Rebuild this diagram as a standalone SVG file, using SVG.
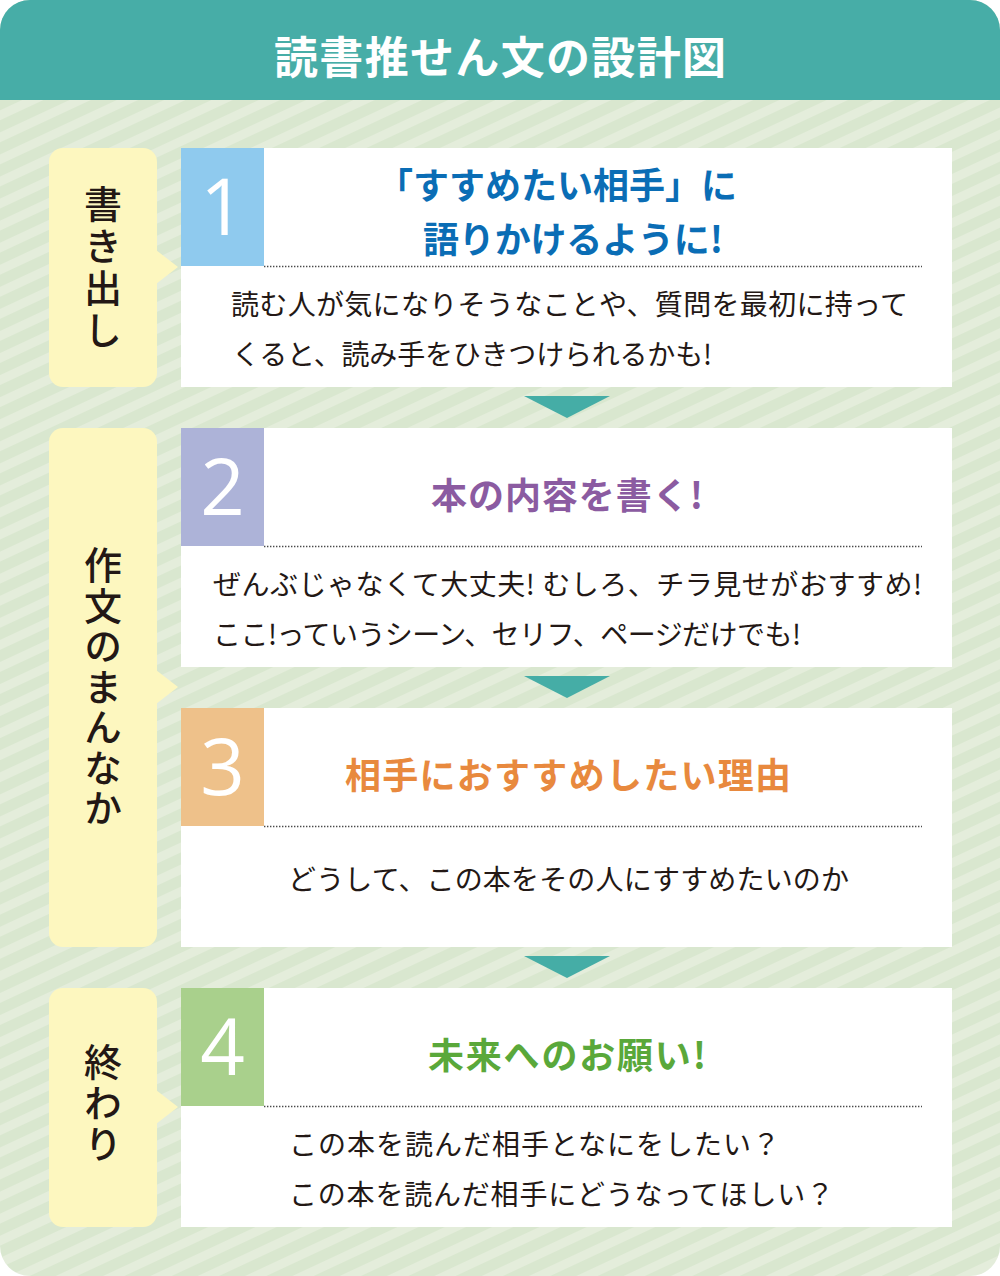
<svg xmlns="http://www.w3.org/2000/svg" width="1000" height="1276" viewBox="0 0 1000 1276">
  <style>
    .jp { font-family: "Noto Sans CJK JP", "Noto Sans", sans-serif; }
    .head { font-weight: 700; font-size: 44px; fill: #ffffff; }
    .side { fill: #fdf7bf; }
    .sidetxt { font-size: 38px; fill: #231815; font-weight: 500; writing-mode: vertical-rl; }
    .card { fill: #ffffff; }
    .num { font-family: "Open Sans", "Noto Sans", sans-serif; font-weight: 400; font-size: 78px; fill: #ffffff; }
    .ttl { font-weight: 700; font-size: 36px; }
    .body { font-size: 28px; fill: #231815; font-weight: 400; }
    .dot { stroke: #4a4a4a; stroke-width: 1.4; stroke-dasharray: 1.4 1.6; fill: none; }
    .arrow { fill: #45ada6; }
  </style>
  <defs>
    <clipPath id="frame">
      <rect x="0" y="0" width="1000" height="1276" rx="30" ry="30"/>
    </clipPath>
    <pattern id="stripes" patternUnits="userSpaceOnUse" width="40" height="20" patternTransform="rotate(-25)">
      <rect x="0" y="0" width="40" height="20" fill="#d9e7cf"/>
      <rect x="0" y="0" width="40" height="9" fill="#e4eddb"/>
    </pattern>
  </defs>

  <g clip-path="url(#frame)">
    <rect x="0" y="0" width="1000" height="1276" fill="url(#stripes)"/>
    <rect x="0" y="0" width="1000" height="100" fill="#47ada7"/>
  </g>

  <g id="title">
    <text class="jp head" x="274" y="74" textLength="452" lengthAdjust="spacing">読書推せん文の設計図</text>
  </g>

  <!-- side labels -->
  <g id="label-kakidashi">
    <rect class="side" x="49" y="148" width="108" height="239" rx="14" ry="14"/>
    <polygon class="side" points="156,250 178,267 156,284"/>
    <text class="jp sidetxt" x="103" y="185" letter-spacing="4">書き出し</text>
  </g>

  <g id="label-mannaka">
    <rect class="side" x="49" y="428" width="108" height="519" rx="14" ry="14"/>
    <polygon class="side" points="156,670 178,687 156,704"/>
    <text class="jp sidetxt" x="103" y="546" letter-spacing="2.5">作文のまんなか</text>
  </g>

  <g id="label-owari">
    <rect class="side" x="49" y="988" width="108" height="239" rx="14" ry="14"/>
    <polygon class="side" points="156,1090 178,1107 156,1124"/>
    <text class="jp sidetxt" x="103" y="1043" letter-spacing="3">終わり</text>
  </g>

  <!-- card 1 -->
  <g id="card1">
    <rect class="card" x="181" y="148" width="771" height="239"/>
    <rect x="181" y="148" width="83" height="118" fill="#8fcaee"/>
    <text class="num" x="222.5" y="235" text-anchor="middle">1</text>
    <text class="jp ttl" fill="#0a6db5" x="377" y="199" textLength="360" lengthAdjust="spacing">「すすめたい相手」に</text>
    <text class="jp ttl" fill="#0a6db5" x="423" y="253" textLength="300" lengthAdjust="spacing">語りかけるように!</text>
    <line class="dot" x1="264" y1="266.5" x2="922" y2="266.5"/>
    <text class="jp body" x="231" y="315" textLength="677" lengthAdjust="spacing">読む人が気になりそうなことや、質問を最初に持って</text>
    <text class="jp body" x="232" y="365" textLength="480" lengthAdjust="spacing">くると、読み手をひきつけられるかも!</text>
  </g>

  <!-- card 2 -->
  <g id="card2">
    <rect class="card" x="181" y="428" width="771" height="239"/>
    <rect x="181" y="428" width="83" height="118" fill="#adb3d8"/>
    <text class="num" x="222.5" y="515" text-anchor="middle">2</text>
    <text class="jp ttl" fill="#8b5ba1" x="431" y="509" textLength="272" lengthAdjust="spacing">本の内容を書く!</text>
    <line class="dot" x1="264" y1="546.5" x2="922" y2="546.5"/>
    <text class="jp body" x="213" y="595" textLength="709" lengthAdjust="spacing">ぜんぶじゃなくて大丈夫! むしろ、チラ見せがおすすめ!</text>
    <text class="jp body" x="213" y="645" textLength="588" lengthAdjust="spacing">ここ!っていうシーン、セリフ、ページだけでも!</text>
  </g>

  <!-- card 3 -->
  <g id="card3">
    <rect class="card" x="181" y="708" width="771" height="239"/>
    <rect x="181" y="708" width="83" height="118" fill="#eec18a"/>
    <text class="num" x="222.5" y="795" text-anchor="middle">3</text>
    <text class="jp ttl" fill="#e8893e" x="345" y="789" textLength="446" lengthAdjust="spacing">相手におすすめしたい理由</text>
    <line class="dot" x1="264" y1="826.5" x2="922" y2="826.5"/>
    <text class="jp body" x="288" y="890" textLength="561" lengthAdjust="spacing">どうして、この本をその人にすすめたいのか</text>
  </g>

  <!-- card 4 -->
  <g id="card4">
    <rect class="card" x="181" y="988" width="771" height="239"/>
    <rect x="181" y="988" width="83" height="118" fill="#a9d08c"/>
    <text class="num" x="222.5" y="1075" text-anchor="middle">4</text>
    <text class="jp ttl" fill="#5aa83a" x="428" y="1069" textLength="278" lengthAdjust="spacing">未来へのお願い!</text>
    <line class="dot" x1="264" y1="1106.5" x2="922" y2="1106.5"/>
    <text class="jp body" x="289" y="1155" textLength="491" lengthAdjust="spacing">この本を読んだ相手となにをしたい？</text>
    <text class="jp body" x="289" y="1205" textLength="545" lengthAdjust="spacing">この本を読んだ相手にどうなってほしい？</text>
  </g>

  <!-- connectors -->
  <g id="connectors">
    <polygon class="arrow" points="524,396 610,396 567,418"/>
    <polygon class="arrow" points="524,676 610,676 567,698"/>
    <polygon class="arrow" points="524,956 610,956 567,978"/>
  </g>
</svg>
